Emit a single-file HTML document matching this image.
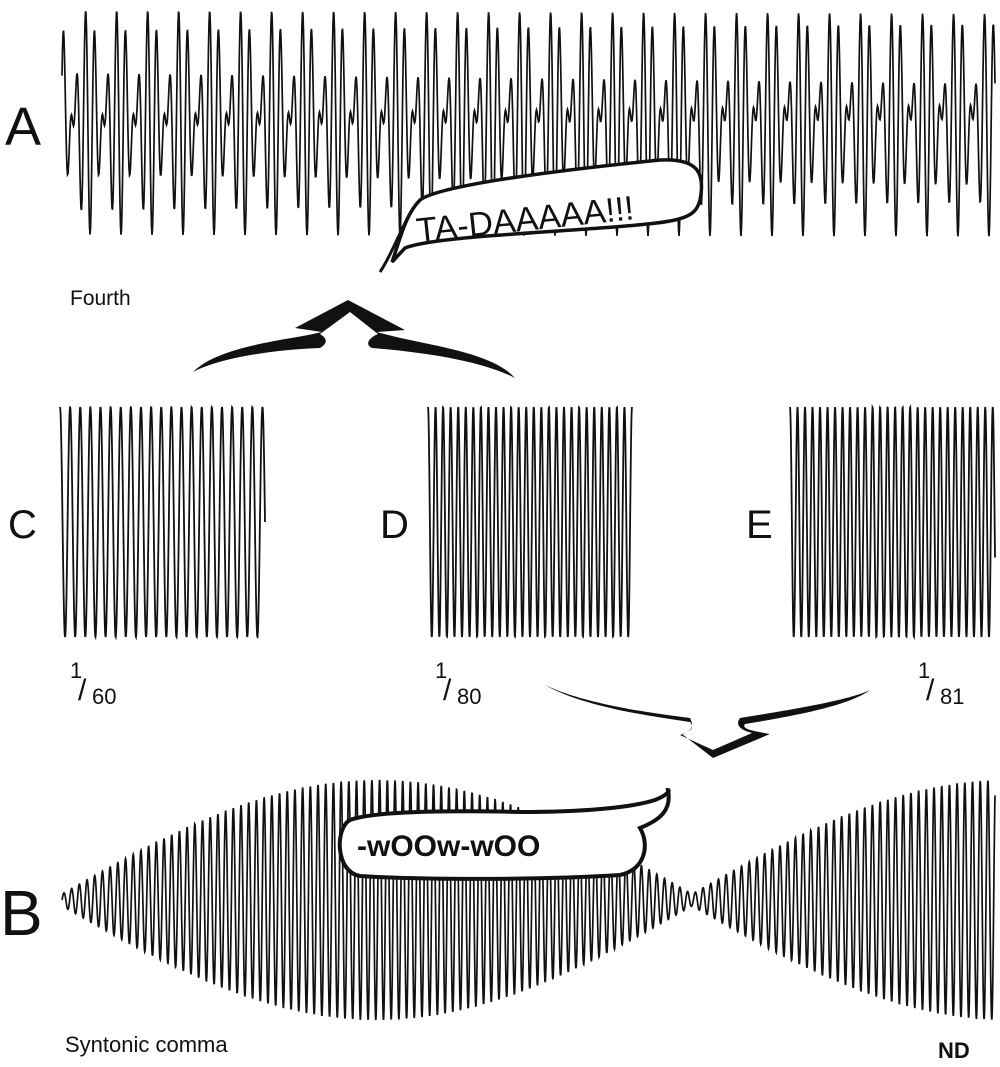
<!DOCTYPE html>
<html><head><meta charset="utf-8"><style>
html,body{margin:0;padding:0;background:#fff;}
svg{display:block;}
text{font-family:"Liberation Sans",sans-serif;fill:#111;}
</style></head><body>
<svg id="s" width="1000" height="1067" viewBox="0 0 1000 1067" xmlns="http://www.w3.org/2000/svg">
<g id="waves" fill="none" stroke="#111" stroke-width="1.8"></g>
<!-- Bubble A -->
<path d="M392,262 C400,240 405,215 420,200 C440,185 560,170 660,160 C700,158 705,175 700,200 C695,220 680,222 600,228 C520,234 430,238 405,248 Z" fill="#fff" stroke="#111" stroke-width="3.5"/>
<path d="M380,272 C395,250 405,215 420,200" fill="none" stroke="#111" stroke-width="3"/>
<text x="415" y="228" font-size="34" transform="rotate(-6 550 210)">TA-DAAAAA!!!</text>
<!-- Labels -->
<text x="5" y="145" font-size="54">A</text>
<text x="70" y="305" font-size="21">Fourth</text>
<text x="8" y="538" font-size="40">C</text>
<text x="380" y="538" font-size="40">D</text>
<text x="746" y="538" font-size="40">E</text>
<text x="70" y="678" font-size="22">1</text><text x="78" y="700" font-size="30">/</text><text x="92" y="704" font-size="22">60</text>
<text x="435" y="678" font-size="22">1</text><text x="443" y="700" font-size="30">/</text><text x="457" y="704" font-size="22">80</text>
<text x="918" y="678" font-size="22">1</text><text x="926" y="700" font-size="30">/</text><text x="940" y="704" font-size="22">81</text>
<text x="0" y="935" font-size="64">B</text>
<text x="65" y="1052" font-size="22">Syntonic comma</text>
<text x="938" y="1058" font-size="22" font-weight="bold">ND</text>
<!-- Up arrow -->
<path d="M193,372 C220,345 290,340 322,332 L295,328 L348,300 L405,330 L377,332 C420,345 490,350 515,378 C480,360 420,352 372,348 C365,345 368,338 378,334 L350,312 L320,334 C330,340 325,345 320,348 C270,350 220,358 193,372 Z" fill="#111"/>
<!-- Down arrow -->
<path d="M545,685 C580,705 640,715 690,722 C695,728 690,732 682,734 L713,758 L770,734 C760,732 740,730 745,724 C800,715 850,705 870,690 C850,700 790,710 740,718 C735,725 740,730 752,733 L713,750 L680,735 C690,732 695,728 690,718 C640,712 580,702 545,685 Z" fill="#111"/>
<!-- Bubble B -->
<path d="M350,820 C370,812 440,810 520,812 C580,812 630,808 655,800 C668,795 670,790 668,790 C672,810 660,820 640,828 C650,845 645,870 620,875 C540,880 420,880 360,876 C335,872 335,828 350,820 Z" fill="#fff" stroke="#111" stroke-width="4"/>
<text x="357" y="856" font-size="30" font-weight="bold">-wOOw-wOO</text>
</svg>
<script>
var g=document.getElementById('waves');
function add(d,w){var p=document.createElementNS('http://www.w3.org/2000/svg','path');p.setAttribute('d',d);if(w)p.setAttribute('stroke-width',w);g.appendChild(p);}
var d='';for(var x=62;x<=995;x+=0.5){var t=x-62;var y=122-60*Math.sin(2*Math.PI*t/10.33)-55*Math.sin(2*Math.PI*t/7.75+1);d+=(x==62?'M':'L')+x+','+y.toFixed(1);}
add(d,1.7);
function blk(x0,x1,cyc){var d='';var w=(x1-x0)/(cyc);for(var x=x0;x<=x1;x+=0.25){var y=522-115*Math.cos(2*Math.PI*(x-x0)/w);d+=(x==x0?'M':'L')+x+','+y.toFixed(1);}add(d,1.8);}
blk(60,265,20.25);blk(428,632,27);blk(790,995,27.3);
d='';for(var x=62;x<=995;x+=0.25){var t=x-62;var env=6+114*Math.abs(Math.sin(Math.PI*t/630));var y=900-env*Math.sin(2*Math.PI*t/7.7);d+=(x==62?'M':'L')+x+','+y.toFixed(1);}
add(d,1.7);
var s=document.getElementById('s');s.insertBefore(g,s.firstChild);
</script>
</body></html>
